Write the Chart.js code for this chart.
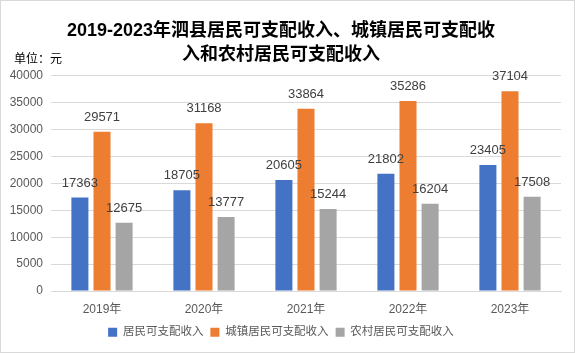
<!DOCTYPE html>
<html>
<head>
<meta charset="utf-8">
<script src="https://cdn.jsdelivr.net/npm/chart.js@4"></script>
<style>
  body { margin: 0; background: #fff; }
  #wrap { width: 573px; height: 351px; border: 1px solid #d9d9d9; }
</style>
</head>
<body>
<div id="wrap"><canvas id="myChart" width="573" height="351"></canvas></div>
<script>
// 数据
var years = ['2019年', '2020年', '2021年', '2022年', '2023年'];
var residentIncome = [17363, 18705, 20605, 21802, 23405];
var urbanIncome = [29571, 31168, 33864, 35286, 37104];
var ruralIncome = [12675, 13777, 15244, 16204, 17508];
var yTicks = [0, 5000, 10000, 15000, 20000, 25000, 30000, 35000, 40000];
var unitText = '单位：元';

var fontFamily = '"Liberation Sans", "Noto Sans CJK SC", sans-serif';

// 柱顶数值标签 + 单位
var valueLabels = {
    id: 'valueLabels',
    afterDatasetsDraw: function (chart) {
        var ctx = chart.ctx;
        ctx.save();
        ctx.font = '13px ' + fontFamily;
        ctx.fillStyle = '#404040';
        ctx.textAlign = 'center';
        ctx.textBaseline = 'bottom';
        chart.data.datasets.forEach(function (ds, i) {
            chart.getDatasetMeta(i).data.forEach(function (bar, j) {
                ctx.fillText(String(ds.data[j]), bar.x, bar.y - 8);
            });
        });
        // 单位
        ctx.font = '12px ' + fontFamily;
        ctx.fillStyle = '#000';
        ctx.textAlign = 'left';
        ctx.textBaseline = 'middle';
        ctx.fillText(unitText, 13, chart.chartArea.top - 16);
        ctx.restore();
    }
};

var ctx = document.getElementById('myChart').getContext('2d');
var myChart = new Chart(ctx, {
    type: 'bar',
    data: {
        labels: years,
        datasets: [{
            label: '居民可支配收入',
            data: residentIncome,
            backgroundColor: '#4472C4'
        }, {
            label: '城镇居民可支配收入',
            data: urbanIncome,
            backgroundColor: '#ED7D31'
        }, {
            label: '农村居民可支配收入',
            data: ruralIncome,
            backgroundColor: '#A5A5A5'
        }]
    },
    options: {
        responsive: false,
        animation: false,
        layout: { padding: { left: 0, right: 13, top: 4, bottom: 4 } },
        datasets: {
            bar: { categoryPercentage: 0.65, barPercentage: 0.77 }
        },
        plugins: {
            title: {
                display: true,
                text: ['2019-2023年泗县居民可支配收入、城镇居民可支配收', '入和农村居民可支配收入'],
                color: '#000',
                font: { family: fontFamily, size: 18, weight: 'bold', lineHeight: 1.35 },
                padding: { top: 14, bottom: 8 }
            },
            legend: {
                position: 'bottom',
                labels: {
                    boxWidth: 9,
                    boxHeight: 9,
                    padding: 7,
                    color: '#595959',
                    font: { family: fontFamily, size: 11.5 }
                }
            },
            tooltip: { enabled: false }
        },
        scales: {
            x: {
                grid: { display: false },
                border: { color: '#d9d9d9' },
                ticks: { color: '#595959', font: { family: fontFamily, size: 12 }, padding: 3 }
            },
            y: {
                min: 0,
                max: 40000,
                afterBuildTicks: function (axis) {
                    axis.ticks = yTicks.map(function (v) { return { value: v }; });
                },
                afterFit: function (axis) { axis.width = 50; },
                grid: { color: '#d9d9d9', drawTicks: false },
                border: { display: false },
                ticks: {
                    color: '#595959',
                    font: { family: fontFamily, size: 12 },
                    padding: 8,
                    callback: function (v) { return String(v); }
                }
            }
        }
    },
    plugins: [valueLabels]
});
</script>
</body>
</html>
